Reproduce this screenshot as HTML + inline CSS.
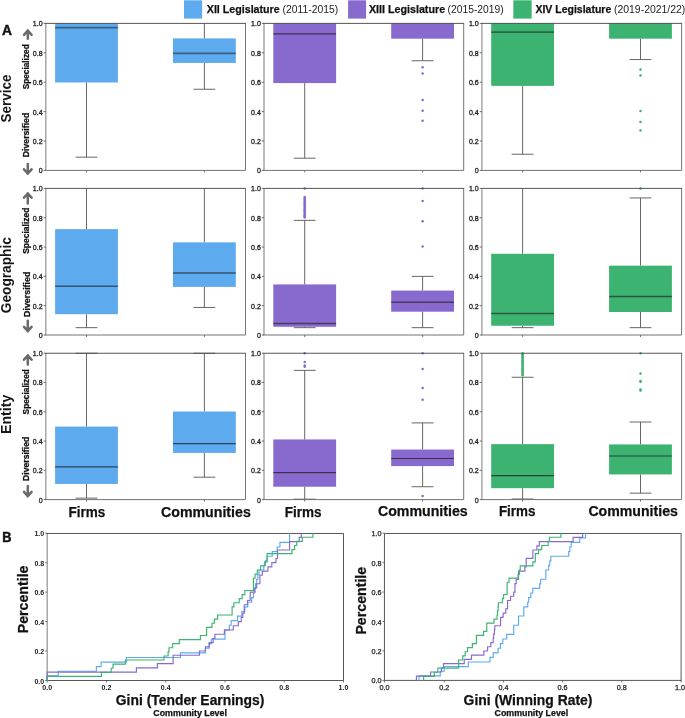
<!DOCTYPE html>
<html lang="en"><head><meta charset="utf-8"><title>Figure</title>
<style>
html,body{margin:0;padding:0;background:#fff;}
body{width:685px;height:718px;overflow:hidden;}
svg{display:block;will-change:transform;font-family:"Liberation Sans",sans-serif;}
</style></head>
<body>
<svg width="685" height="718" viewBox="0 0 685 718">
<rect width="685" height="718" fill="#ffffff"/>
<defs><filter id="ga" x="0" y="0" width="685" height="718" filterUnits="userSpaceOnUse" color-interpolation-filters="sRGB"><feOffset dx="0" dy="0"/></filter></defs>
<g filter="url(#ga)">
<g>
<path d="M86.5 23.4V23.4M86.5 82.49V157.17M75.6 157.17H97.4" stroke="#565656" stroke-width="0.9" fill="none"/>
<rect x="55.1" y="23.4" width="62.8" height="59.09" fill="#5DABEE"/>
<path d="M55.1 27.66H117.9" stroke="#1a1a1a" stroke-opacity="0.52" stroke-width="1.7"/>
<path d="M86.5 170.4v2" stroke="#4d4d4d" stroke-width="0.8"/>
<path d="M204.4 23.4V38.39M204.4 62.94V89.26M193.5 89.26H215.3" stroke="#565656" stroke-width="0.9" fill="none"/>
<rect x="173" y="38.39" width="62.8" height="24.55" fill="#5DABEE"/>
<path d="M173 53.39H235.8" stroke="#1a1a1a" stroke-opacity="0.52" stroke-width="1.7"/>
<path d="M204.4 170.4v2" stroke="#4d4d4d" stroke-width="0.8"/>
<path d="M45.8 23.4V170.4" stroke="#9a9a9a" stroke-width="1.3" fill="none"/>
<path d="M245.5 23.4V170.4H45.2" stroke="#6c6c6c" stroke-width="0.95" fill="none"/>
<path d="M45.2 23.4H245.95" stroke="#4d4d4d" stroke-width="0.95" fill="none"/>
<path d="M43.6 170.4h2.2" stroke="#4d4d4d" stroke-width="0.8"/>
<text x="42.6" y="173.3" font-size="7" font-weight="normal" text-anchor="end" fill="#1c1c1c" stroke="#1c1c1c" stroke-width="0.3">0</text>
<path d="M43.6 141h2.2" stroke="#4d4d4d" stroke-width="0.8"/>
<text x="42.6" y="143.9" font-size="7" font-weight="normal" text-anchor="end" fill="#1c1c1c" stroke="#1c1c1c" stroke-width="0.3">0.2</text>
<path d="M43.6 111.6h2.2" stroke="#4d4d4d" stroke-width="0.8"/>
<text x="42.6" y="114.5" font-size="7" font-weight="normal" text-anchor="end" fill="#1c1c1c" stroke="#1c1c1c" stroke-width="0.3">0.4</text>
<path d="M43.6 82.2h2.2" stroke="#4d4d4d" stroke-width="0.8"/>
<text x="42.6" y="85.1" font-size="7" font-weight="normal" text-anchor="end" fill="#1c1c1c" stroke="#1c1c1c" stroke-width="0.3">0.6</text>
<path d="M43.6 52.8h2.2" stroke="#4d4d4d" stroke-width="0.8"/>
<text x="42.6" y="55.7" font-size="7" font-weight="normal" text-anchor="end" fill="#1c1c1c" stroke="#1c1c1c" stroke-width="0.3">0.8</text>
<path d="M43.6 23.4h2.2" stroke="#4d4d4d" stroke-width="0.8"/>
<text x="42.6" y="26.3" font-size="7" font-weight="normal" text-anchor="end" fill="#1c1c1c" stroke="#1c1c1c" stroke-width="0.3">1.0</text>
</g>
<g>
<path d="M304.7 23.4V23.4M304.7 83.08V158.2M293.8 158.2H315.6" stroke="#565656" stroke-width="0.9" fill="none"/>
<rect x="273.3" y="23.4" width="62.8" height="59.68" fill="#8869CE"/>
<path d="M273.3 33.84H336.1" stroke="#1a1a1a" stroke-opacity="0.52" stroke-width="1.7"/>
<path d="M304.7 170.4v2" stroke="#4d4d4d" stroke-width="0.8"/>
<path d="M422.6 23.4V23.4M422.6 38.69V60.74M411.7 60.74H433.5" stroke="#565656" stroke-width="0.9" fill="none"/>
<rect x="391.2" y="23.4" width="62.8" height="15.29" fill="#8869CE"/>
<circle cx="422.6" cy="67.21" r="1.25" fill="#8869CE"/>
<circle cx="422.6" cy="73.38" r="1.25" fill="#8869CE"/>
<circle cx="422.6" cy="99.99" r="1.25" fill="#8869CE"/>
<circle cx="422.6" cy="110.72" r="1.25" fill="#8869CE"/>
<circle cx="422.6" cy="120.86" r="1.25" fill="#8869CE"/>
<path d="M422.6 170.4v2" stroke="#4d4d4d" stroke-width="0.8"/>
<path d="M264 23.4V170.4" stroke="#9a9a9a" stroke-width="1.3" fill="none"/>
<path d="M463.7 23.4V170.4H263.4" stroke="#6c6c6c" stroke-width="0.95" fill="none"/>
<path d="M263.4 23.4H464.15" stroke="#4d4d4d" stroke-width="0.95" fill="none"/>
<path d="M261.8 170.4h2.2" stroke="#4d4d4d" stroke-width="0.8"/>
<text x="260.8" y="173.3" font-size="7" font-weight="normal" text-anchor="end" fill="#1c1c1c" stroke="#1c1c1c" stroke-width="0.3">0</text>
<path d="M261.8 141h2.2" stroke="#4d4d4d" stroke-width="0.8"/>
<text x="260.8" y="143.9" font-size="7" font-weight="normal" text-anchor="end" fill="#1c1c1c" stroke="#1c1c1c" stroke-width="0.3">0.2</text>
<path d="M261.8 111.6h2.2" stroke="#4d4d4d" stroke-width="0.8"/>
<text x="260.8" y="114.5" font-size="7" font-weight="normal" text-anchor="end" fill="#1c1c1c" stroke="#1c1c1c" stroke-width="0.3">0.4</text>
<path d="M261.8 82.2h2.2" stroke="#4d4d4d" stroke-width="0.8"/>
<text x="260.8" y="85.1" font-size="7" font-weight="normal" text-anchor="end" fill="#1c1c1c" stroke="#1c1c1c" stroke-width="0.3">0.6</text>
<path d="M261.8 52.8h2.2" stroke="#4d4d4d" stroke-width="0.8"/>
<text x="260.8" y="55.7" font-size="7" font-weight="normal" text-anchor="end" fill="#1c1c1c" stroke="#1c1c1c" stroke-width="0.3">0.8</text>
<path d="M261.8 23.4h2.2" stroke="#4d4d4d" stroke-width="0.8"/>
<text x="260.8" y="26.3" font-size="7" font-weight="normal" text-anchor="end" fill="#1c1c1c" stroke="#1c1c1c" stroke-width="0.3">1.0</text>
</g>
<g>
<path d="M522.6 23.4V23.4M522.6 85.88V154.23M511.7 154.23H533.5" stroke="#565656" stroke-width="0.9" fill="none"/>
<rect x="491.2" y="23.4" width="62.8" height="62.48" fill="#3CB371"/>
<path d="M491.2 32.22H554" stroke="#1a1a1a" stroke-opacity="0.52" stroke-width="1.7"/>
<path d="M522.6 170.4v2" stroke="#4d4d4d" stroke-width="0.8"/>
<path d="M640.5 23.4V23.4M640.5 38.69V59.56M629.6 59.56H651.4" stroke="#565656" stroke-width="0.9" fill="none"/>
<rect x="609.1" y="23.4" width="62.8" height="15.29" fill="#3CB371"/>
<circle cx="640.5" cy="69.41" r="1.25" fill="#3CB371"/>
<circle cx="640.5" cy="75.44" r="1.25" fill="#3CB371"/>
<circle cx="640.5" cy="111.01" r="1.25" fill="#3CB371"/>
<circle cx="640.5" cy="122.04" r="1.25" fill="#3CB371"/>
<circle cx="640.5" cy="130.56" r="1.25" fill="#3CB371"/>
<path d="M640.5 170.4v2" stroke="#4d4d4d" stroke-width="0.8"/>
<path d="M481.9 23.4V170.4" stroke="#9a9a9a" stroke-width="1.3" fill="none"/>
<path d="M681.6 23.4V170.4H481.3" stroke="#6c6c6c" stroke-width="0.95" fill="none"/>
<path d="M481.3 23.4H682.05" stroke="#4d4d4d" stroke-width="0.95" fill="none"/>
<path d="M479.7 170.4h2.2" stroke="#4d4d4d" stroke-width="0.8"/>
<text x="478.7" y="173.3" font-size="7" font-weight="normal" text-anchor="end" fill="#1c1c1c" stroke="#1c1c1c" stroke-width="0.3">0</text>
<path d="M479.7 141h2.2" stroke="#4d4d4d" stroke-width="0.8"/>
<text x="478.7" y="143.9" font-size="7" font-weight="normal" text-anchor="end" fill="#1c1c1c" stroke="#1c1c1c" stroke-width="0.3">0.2</text>
<path d="M479.7 111.6h2.2" stroke="#4d4d4d" stroke-width="0.8"/>
<text x="478.7" y="114.5" font-size="7" font-weight="normal" text-anchor="end" fill="#1c1c1c" stroke="#1c1c1c" stroke-width="0.3">0.4</text>
<path d="M479.7 82.2h2.2" stroke="#4d4d4d" stroke-width="0.8"/>
<text x="478.7" y="85.1" font-size="7" font-weight="normal" text-anchor="end" fill="#1c1c1c" stroke="#1c1c1c" stroke-width="0.3">0.6</text>
<path d="M479.7 52.8h2.2" stroke="#4d4d4d" stroke-width="0.8"/>
<text x="478.7" y="55.7" font-size="7" font-weight="normal" text-anchor="end" fill="#1c1c1c" stroke="#1c1c1c" stroke-width="0.3">0.8</text>
<path d="M479.7 23.4h2.2" stroke="#4d4d4d" stroke-width="0.8"/>
<text x="478.7" y="26.3" font-size="7" font-weight="normal" text-anchor="end" fill="#1c1c1c" stroke="#1c1c1c" stroke-width="0.3">1.0</text>
</g>
<g>
<path d="M86.5 188.4V229.15M86.5 314.18V327.67M75.6 327.67H97.4" stroke="#565656" stroke-width="0.9" fill="none"/>
<rect x="55.1" y="229.15" width="62.8" height="85.03" fill="#5DABEE"/>
<path d="M55.1 286.18H117.9" stroke="#1a1a1a" stroke-opacity="0.6" stroke-width="1.5"/>
<path d="M86.5 335v2" stroke="#4d4d4d" stroke-width="0.8"/>
<path d="M204.4 188.4V242.35M204.4 286.92V307.44M193.5 307.44H215.3" stroke="#565656" stroke-width="0.9" fill="none"/>
<rect x="173" y="242.35" width="62.8" height="44.57" fill="#5DABEE"/>
<path d="M173 272.99H235.8" stroke="#1a1a1a" stroke-opacity="0.6" stroke-width="1.5"/>
<path d="M204.4 335v2" stroke="#4d4d4d" stroke-width="0.8"/>
<path d="M45.8 188.4V335" stroke="#9a9a9a" stroke-width="1.3" fill="none"/>
<path d="M245.5 188.4V335H45.2" stroke="#6c6c6c" stroke-width="0.95" fill="none"/>
<path d="M45.2 188.4H245.95" stroke="#4d4d4d" stroke-width="0.95" fill="none"/>
<path d="M43.6 335h2.2" stroke="#4d4d4d" stroke-width="0.8"/>
<text x="42.6" y="337.9" font-size="7" font-weight="normal" text-anchor="end" fill="#1c1c1c" stroke="#1c1c1c" stroke-width="0.3">0</text>
<path d="M43.6 305.68h2.2" stroke="#4d4d4d" stroke-width="0.8"/>
<text x="42.6" y="308.58" font-size="7" font-weight="normal" text-anchor="end" fill="#1c1c1c" stroke="#1c1c1c" stroke-width="0.3">0.2</text>
<path d="M43.6 276.36h2.2" stroke="#4d4d4d" stroke-width="0.8"/>
<text x="42.6" y="279.26" font-size="7" font-weight="normal" text-anchor="end" fill="#1c1c1c" stroke="#1c1c1c" stroke-width="0.3">0.4</text>
<path d="M43.6 247.04h2.2" stroke="#4d4d4d" stroke-width="0.8"/>
<text x="42.6" y="249.94" font-size="7" font-weight="normal" text-anchor="end" fill="#1c1c1c" stroke="#1c1c1c" stroke-width="0.3">0.6</text>
<path d="M43.6 217.72h2.2" stroke="#4d4d4d" stroke-width="0.8"/>
<text x="42.6" y="220.62" font-size="7" font-weight="normal" text-anchor="end" fill="#1c1c1c" stroke="#1c1c1c" stroke-width="0.3">0.8</text>
<path d="M43.6 188.4h2.2" stroke="#4d4d4d" stroke-width="0.8"/>
<text x="42.6" y="191.3" font-size="7" font-weight="normal" text-anchor="end" fill="#1c1c1c" stroke="#1c1c1c" stroke-width="0.3">1.0</text>
</g>
<g>
<path d="M304.7 220.36V284.42M304.7 326.79V327.67M293.8 327.67H315.6M293.8 220.36H315.6" stroke="#565656" stroke-width="0.9" fill="none"/>
<rect x="273.3" y="284.42" width="62.8" height="42.37" fill="#8869CE"/>
<path d="M273.3 323.42H336.1" stroke="#1a1a1a" stroke-opacity="0.6" stroke-width="1.5"/>
<circle cx="304.7" cy="217.57" r="1.25" fill="#8869CE"/>
<circle cx="304.7" cy="216.37" r="1.25" fill="#8869CE"/>
<circle cx="304.7" cy="215.16" r="1.25" fill="#8869CE"/>
<circle cx="304.7" cy="213.95" r="1.25" fill="#8869CE"/>
<circle cx="304.7" cy="212.74" r="1.25" fill="#8869CE"/>
<circle cx="304.7" cy="211.54" r="1.25" fill="#8869CE"/>
<circle cx="304.7" cy="210.33" r="1.25" fill="#8869CE"/>
<circle cx="304.7" cy="209.12" r="1.25" fill="#8869CE"/>
<circle cx="304.7" cy="207.92" r="1.25" fill="#8869CE"/>
<circle cx="304.7" cy="206.71" r="1.25" fill="#8869CE"/>
<circle cx="304.7" cy="205.5" r="1.25" fill="#8869CE"/>
<circle cx="304.7" cy="204.29" r="1.25" fill="#8869CE"/>
<circle cx="304.7" cy="203.09" r="1.25" fill="#8869CE"/>
<circle cx="304.7" cy="201.88" r="1.25" fill="#8869CE"/>
<circle cx="304.7" cy="200.67" r="1.25" fill="#8869CE"/>
<circle cx="304.7" cy="199.46" r="1.25" fill="#8869CE"/>
<circle cx="304.7" cy="198.26" r="1.25" fill="#8869CE"/>
<circle cx="304.7" cy="197.05" r="1.25" fill="#8869CE"/>
<circle cx="304.7" cy="188.4" r="1.25" fill="#8869CE"/>
<path d="M304.7 335v2" stroke="#4d4d4d" stroke-width="0.8"/>
<path d="M422.6 276.36V290.58M422.6 311.69V327.67M411.7 327.67H433.5M411.7 276.36H433.5" stroke="#565656" stroke-width="0.9" fill="none"/>
<rect x="391.2" y="290.58" width="62.8" height="21.11" fill="#8869CE"/>
<path d="M391.2 302.16H454" stroke="#1a1a1a" stroke-opacity="0.6" stroke-width="1.5"/>
<circle cx="422.6" cy="246.6" r="1.25" fill="#8869CE"/>
<circle cx="422.6" cy="221.24" r="1.25" fill="#8869CE"/>
<circle cx="422.6" cy="201.01" r="1.25" fill="#8869CE"/>
<circle cx="422.6" cy="188.4" r="1.25" fill="#8869CE"/>
<path d="M422.6 335v2" stroke="#4d4d4d" stroke-width="0.8"/>
<path d="M264 188.4V335" stroke="#9a9a9a" stroke-width="1.3" fill="none"/>
<path d="M463.7 188.4V335H263.4" stroke="#6c6c6c" stroke-width="0.95" fill="none"/>
<path d="M263.4 188.4H464.15" stroke="#4d4d4d" stroke-width="0.95" fill="none"/>
<path d="M261.8 335h2.2" stroke="#4d4d4d" stroke-width="0.8"/>
<text x="260.8" y="337.9" font-size="7" font-weight="normal" text-anchor="end" fill="#1c1c1c" stroke="#1c1c1c" stroke-width="0.3">0</text>
<path d="M261.8 305.68h2.2" stroke="#4d4d4d" stroke-width="0.8"/>
<text x="260.8" y="308.58" font-size="7" font-weight="normal" text-anchor="end" fill="#1c1c1c" stroke="#1c1c1c" stroke-width="0.3">0.2</text>
<path d="M261.8 276.36h2.2" stroke="#4d4d4d" stroke-width="0.8"/>
<text x="260.8" y="279.26" font-size="7" font-weight="normal" text-anchor="end" fill="#1c1c1c" stroke="#1c1c1c" stroke-width="0.3">0.4</text>
<path d="M261.8 247.04h2.2" stroke="#4d4d4d" stroke-width="0.8"/>
<text x="260.8" y="249.94" font-size="7" font-weight="normal" text-anchor="end" fill="#1c1c1c" stroke="#1c1c1c" stroke-width="0.3">0.6</text>
<path d="M261.8 217.72h2.2" stroke="#4d4d4d" stroke-width="0.8"/>
<text x="260.8" y="220.62" font-size="7" font-weight="normal" text-anchor="end" fill="#1c1c1c" stroke="#1c1c1c" stroke-width="0.3">0.8</text>
<path d="M261.8 188.4h2.2" stroke="#4d4d4d" stroke-width="0.8"/>
<text x="260.8" y="191.3" font-size="7" font-weight="normal" text-anchor="end" fill="#1c1c1c" stroke="#1c1c1c" stroke-width="0.3">1.0</text>
</g>
<g>
<path d="M522.6 188.4V253.78M522.6 325.76V327.67M511.7 327.67H533.5" stroke="#565656" stroke-width="0.9" fill="none"/>
<rect x="491.2" y="253.78" width="62.8" height="71.98" fill="#3CB371"/>
<path d="M491.2 313.6H554" stroke="#1a1a1a" stroke-opacity="0.6" stroke-width="1.5"/>
<path d="M522.6 335v2" stroke="#4d4d4d" stroke-width="0.8"/>
<path d="M640.5 197.93V265.66M640.5 311.98V327.67M629.6 327.67H651.4M629.6 197.93H651.4" stroke="#565656" stroke-width="0.9" fill="none"/>
<rect x="609.1" y="265.66" width="62.8" height="46.33" fill="#3CB371"/>
<path d="M609.1 296.59H671.9" stroke="#1a1a1a" stroke-opacity="0.6" stroke-width="1.5"/>
<circle cx="640.5" cy="188.4" r="1.25" fill="#3CB371"/>
<path d="M640.5 335v2" stroke="#4d4d4d" stroke-width="0.8"/>
<path d="M481.9 188.4V335" stroke="#9a9a9a" stroke-width="1.3" fill="none"/>
<path d="M681.6 188.4V335H481.3" stroke="#6c6c6c" stroke-width="0.95" fill="none"/>
<path d="M481.3 188.4H682.05" stroke="#4d4d4d" stroke-width="0.95" fill="none"/>
<path d="M479.7 335h2.2" stroke="#4d4d4d" stroke-width="0.8"/>
<text x="478.7" y="337.9" font-size="7" font-weight="normal" text-anchor="end" fill="#1c1c1c" stroke="#1c1c1c" stroke-width="0.3">0</text>
<path d="M479.7 305.68h2.2" stroke="#4d4d4d" stroke-width="0.8"/>
<text x="478.7" y="308.58" font-size="7" font-weight="normal" text-anchor="end" fill="#1c1c1c" stroke="#1c1c1c" stroke-width="0.3">0.2</text>
<path d="M479.7 276.36h2.2" stroke="#4d4d4d" stroke-width="0.8"/>
<text x="478.7" y="279.26" font-size="7" font-weight="normal" text-anchor="end" fill="#1c1c1c" stroke="#1c1c1c" stroke-width="0.3">0.4</text>
<path d="M479.7 247.04h2.2" stroke="#4d4d4d" stroke-width="0.8"/>
<text x="478.7" y="249.94" font-size="7" font-weight="normal" text-anchor="end" fill="#1c1c1c" stroke="#1c1c1c" stroke-width="0.3">0.6</text>
<path d="M479.7 217.72h2.2" stroke="#4d4d4d" stroke-width="0.8"/>
<text x="478.7" y="220.62" font-size="7" font-weight="normal" text-anchor="end" fill="#1c1c1c" stroke="#1c1c1c" stroke-width="0.3">0.8</text>
<path d="M479.7 188.4h2.2" stroke="#4d4d4d" stroke-width="0.8"/>
<text x="478.7" y="191.3" font-size="7" font-weight="normal" text-anchor="end" fill="#1c1c1c" stroke="#1c1c1c" stroke-width="0.3">1.0</text>
</g>
<g>
<path d="M86.5 353.25V426.57M86.5 483.94V498.14M75.6 498.14H97.4M75.6 353.25H97.4" stroke="#565656" stroke-width="0.9" fill="none"/>
<rect x="55.1" y="426.57" width="62.8" height="57.37" fill="#5DABEE"/>
<path d="M55.1 466.82H117.9" stroke="#1a1a1a" stroke-opacity="0.72" stroke-width="1.15"/>
<path d="M86.5 499.6v2" stroke="#4d4d4d" stroke-width="0.8"/>
<path d="M204.4 353.25V411.5M204.4 452.91V477.21M193.5 477.21H215.3M193.5 353.25H215.3" stroke="#565656" stroke-width="0.9" fill="none"/>
<rect x="173" y="411.5" width="62.8" height="41.42" fill="#5DABEE"/>
<path d="M173 443.69H235.8" stroke="#1a1a1a" stroke-opacity="0.72" stroke-width="1.15"/>
<path d="M204.4 499.6v2" stroke="#4d4d4d" stroke-width="0.8"/>
<path d="M45.8 353.25V499.6" stroke="#9a9a9a" stroke-width="1.3" fill="none"/>
<path d="M245.5 353.25V499.6H45.2" stroke="#6c6c6c" stroke-width="0.95" fill="none"/>
<path d="M45.2 353.25H245.95" stroke="#4d4d4d" stroke-width="0.95" fill="none"/>
<path d="M43.6 499.6h2.2" stroke="#4d4d4d" stroke-width="0.8"/>
<text x="42.6" y="502.5" font-size="7" font-weight="normal" text-anchor="end" fill="#1c1c1c" stroke="#1c1c1c" stroke-width="0.3">0</text>
<path d="M43.6 470.33h2.2" stroke="#4d4d4d" stroke-width="0.8"/>
<text x="42.6" y="473.23" font-size="7" font-weight="normal" text-anchor="end" fill="#1c1c1c" stroke="#1c1c1c" stroke-width="0.3">0.2</text>
<path d="M43.6 441.06h2.2" stroke="#4d4d4d" stroke-width="0.8"/>
<text x="42.6" y="443.96" font-size="7" font-weight="normal" text-anchor="end" fill="#1c1c1c" stroke="#1c1c1c" stroke-width="0.3">0.4</text>
<path d="M43.6 411.79h2.2" stroke="#4d4d4d" stroke-width="0.8"/>
<text x="42.6" y="414.69" font-size="7" font-weight="normal" text-anchor="end" fill="#1c1c1c" stroke="#1c1c1c" stroke-width="0.3">0.6</text>
<path d="M43.6 382.52h2.2" stroke="#4d4d4d" stroke-width="0.8"/>
<text x="42.6" y="385.42" font-size="7" font-weight="normal" text-anchor="end" fill="#1c1c1c" stroke="#1c1c1c" stroke-width="0.3">0.8</text>
<path d="M43.6 353.25h2.2" stroke="#4d4d4d" stroke-width="0.8"/>
<text x="42.6" y="356.15" font-size="7" font-weight="normal" text-anchor="end" fill="#1c1c1c" stroke="#1c1c1c" stroke-width="0.3">1.0</text>
</g>
<g>
<path d="M304.7 370.37V439.45M304.7 486.72V499.16M293.8 499.16H315.6M293.8 370.37H315.6" stroke="#565656" stroke-width="0.9" fill="none"/>
<rect x="273.3" y="439.45" width="62.8" height="47.27" fill="#8869CE"/>
<path d="M273.3 472.67H336.1" stroke="#1a1a1a" stroke-opacity="0.72" stroke-width="1.15"/>
<circle cx="304.7" cy="366.71" r="1.25" fill="#8869CE"/>
<circle cx="304.7" cy="365.54" r="1.25" fill="#8869CE"/>
<circle cx="304.7" cy="361.88" r="1.25" fill="#8869CE"/>
<circle cx="304.7" cy="353.25" r="1.25" fill="#8869CE"/>
<path d="M304.7 499.6v2" stroke="#4d4d4d" stroke-width="0.8"/>
<path d="M422.6 422.91V449.55M422.6 466.09V486.72M411.7 486.72H433.5M411.7 422.91H433.5" stroke="#565656" stroke-width="0.9" fill="none"/>
<rect x="391.2" y="449.55" width="62.8" height="16.54" fill="#8869CE"/>
<path d="M391.2 458.48H454" stroke="#1a1a1a" stroke-opacity="0.72" stroke-width="1.15"/>
<circle cx="422.6" cy="495.94" r="1.25" fill="#8869CE"/>
<circle cx="422.6" cy="399.64" r="1.25" fill="#8869CE"/>
<circle cx="422.6" cy="387.93" r="1.25" fill="#8869CE"/>
<circle cx="422.6" cy="368.91" r="1.25" fill="#8869CE"/>
<circle cx="422.6" cy="353.25" r="1.25" fill="#8869CE"/>
<path d="M422.6 499.6v2" stroke="#4d4d4d" stroke-width="0.8"/>
<path d="M264 353.25V499.6" stroke="#9a9a9a" stroke-width="1.3" fill="none"/>
<path d="M463.7 353.25V499.6H263.4" stroke="#6c6c6c" stroke-width="0.95" fill="none"/>
<path d="M263.4 353.25H464.15" stroke="#4d4d4d" stroke-width="0.95" fill="none"/>
<path d="M261.8 499.6h2.2" stroke="#4d4d4d" stroke-width="0.8"/>
<text x="260.8" y="502.5" font-size="7" font-weight="normal" text-anchor="end" fill="#1c1c1c" stroke="#1c1c1c" stroke-width="0.3">0</text>
<path d="M261.8 470.33h2.2" stroke="#4d4d4d" stroke-width="0.8"/>
<text x="260.8" y="473.23" font-size="7" font-weight="normal" text-anchor="end" fill="#1c1c1c" stroke="#1c1c1c" stroke-width="0.3">0.2</text>
<path d="M261.8 441.06h2.2" stroke="#4d4d4d" stroke-width="0.8"/>
<text x="260.8" y="443.96" font-size="7" font-weight="normal" text-anchor="end" fill="#1c1c1c" stroke="#1c1c1c" stroke-width="0.3">0.4</text>
<path d="M261.8 411.79h2.2" stroke="#4d4d4d" stroke-width="0.8"/>
<text x="260.8" y="414.69" font-size="7" font-weight="normal" text-anchor="end" fill="#1c1c1c" stroke="#1c1c1c" stroke-width="0.3">0.6</text>
<path d="M261.8 382.52h2.2" stroke="#4d4d4d" stroke-width="0.8"/>
<text x="260.8" y="385.42" font-size="7" font-weight="normal" text-anchor="end" fill="#1c1c1c" stroke="#1c1c1c" stroke-width="0.3">0.8</text>
<path d="M261.8 353.25h2.2" stroke="#4d4d4d" stroke-width="0.8"/>
<text x="260.8" y="356.15" font-size="7" font-weight="normal" text-anchor="end" fill="#1c1c1c" stroke="#1c1c1c" stroke-width="0.3">1.0</text>
</g>
<g>
<path d="M522.6 377.25V444.13M522.6 488.18V499.01M511.7 499.01H533.5M511.7 377.25H533.5" stroke="#565656" stroke-width="0.9" fill="none"/>
<rect x="491.2" y="444.13" width="62.8" height="44.05" fill="#3CB371"/>
<path d="M491.2 475.6H554" stroke="#1a1a1a" stroke-opacity="0.72" stroke-width="1.15"/>
<circle cx="522.6" cy="375.2" r="1.25" fill="#3CB371"/>
<circle cx="522.6" cy="374.05" r="1.25" fill="#3CB371"/>
<circle cx="522.6" cy="372.89" r="1.25" fill="#3CB371"/>
<circle cx="522.6" cy="371.74" r="1.25" fill="#3CB371"/>
<circle cx="522.6" cy="370.58" r="1.25" fill="#3CB371"/>
<circle cx="522.6" cy="369.43" r="1.25" fill="#3CB371"/>
<circle cx="522.6" cy="368.27" r="1.25" fill="#3CB371"/>
<circle cx="522.6" cy="367.11" r="1.25" fill="#3CB371"/>
<circle cx="522.6" cy="365.96" r="1.25" fill="#3CB371"/>
<circle cx="522.6" cy="364.8" r="1.25" fill="#3CB371"/>
<circle cx="522.6" cy="363.65" r="1.25" fill="#3CB371"/>
<circle cx="522.6" cy="362.49" r="1.25" fill="#3CB371"/>
<circle cx="522.6" cy="361.34" r="1.25" fill="#3CB371"/>
<circle cx="522.6" cy="360.18" r="1.25" fill="#3CB371"/>
<circle cx="522.6" cy="359.03" r="1.25" fill="#3CB371"/>
<circle cx="522.6" cy="357.87" r="1.25" fill="#3CB371"/>
<circle cx="522.6" cy="356.72" r="1.25" fill="#3CB371"/>
<circle cx="522.6" cy="355.56" r="1.25" fill="#3CB371"/>
<circle cx="522.6" cy="354.41" r="1.25" fill="#3CB371"/>
<circle cx="522.6" cy="353.25" r="1.25" fill="#3CB371"/>
<path d="M522.6 499.6v2" stroke="#4d4d4d" stroke-width="0.8"/>
<path d="M640.5 422.03V444.43M640.5 474.43V493.16M629.6 493.16H651.4M629.6 422.03H651.4" stroke="#565656" stroke-width="0.9" fill="none"/>
<rect x="609.1" y="444.43" width="62.8" height="30" fill="#3CB371"/>
<path d="M609.1 455.99H671.9" stroke="#1a1a1a" stroke-opacity="0.72" stroke-width="1.15"/>
<circle cx="640.5" cy="390.42" r="1.25" fill="#3CB371"/>
<circle cx="640.5" cy="389.54" r="1.25" fill="#3CB371"/>
<circle cx="640.5" cy="381.79" r="1.25" fill="#3CB371"/>
<circle cx="640.5" cy="380.91" r="1.25" fill="#3CB371"/>
<circle cx="640.5" cy="373.45" r="1.25" fill="#3CB371"/>
<circle cx="640.5" cy="353.25" r="1.25" fill="#3CB371"/>
<path d="M640.5 499.6v2" stroke="#4d4d4d" stroke-width="0.8"/>
<path d="M481.9 353.25V499.6" stroke="#9a9a9a" stroke-width="1.3" fill="none"/>
<path d="M681.6 353.25V499.6H481.3" stroke="#6c6c6c" stroke-width="0.95" fill="none"/>
<path d="M481.3 353.25H682.05" stroke="#4d4d4d" stroke-width="0.95" fill="none"/>
<path d="M479.7 499.6h2.2" stroke="#4d4d4d" stroke-width="0.8"/>
<text x="478.7" y="502.5" font-size="7" font-weight="normal" text-anchor="end" fill="#1c1c1c" stroke="#1c1c1c" stroke-width="0.3">0</text>
<path d="M479.7 470.33h2.2" stroke="#4d4d4d" stroke-width="0.8"/>
<text x="478.7" y="473.23" font-size="7" font-weight="normal" text-anchor="end" fill="#1c1c1c" stroke="#1c1c1c" stroke-width="0.3">0.2</text>
<path d="M479.7 441.06h2.2" stroke="#4d4d4d" stroke-width="0.8"/>
<text x="478.7" y="443.96" font-size="7" font-weight="normal" text-anchor="end" fill="#1c1c1c" stroke="#1c1c1c" stroke-width="0.3">0.4</text>
<path d="M479.7 411.79h2.2" stroke="#4d4d4d" stroke-width="0.8"/>
<text x="478.7" y="414.69" font-size="7" font-weight="normal" text-anchor="end" fill="#1c1c1c" stroke="#1c1c1c" stroke-width="0.3">0.6</text>
<path d="M479.7 382.52h2.2" stroke="#4d4d4d" stroke-width="0.8"/>
<text x="478.7" y="385.42" font-size="7" font-weight="normal" text-anchor="end" fill="#1c1c1c" stroke="#1c1c1c" stroke-width="0.3">0.8</text>
<path d="M479.7 353.25h2.2" stroke="#4d4d4d" stroke-width="0.8"/>
<text x="478.7" y="356.15" font-size="7" font-weight="normal" text-anchor="end" fill="#1c1c1c" stroke="#1c1c1c" stroke-width="0.3">1.0</text>
</g>
<text x="68.4" y="516.6" font-size="14" font-weight="bold" text-anchor="start" fill="#111" textLength="36.8" lengthAdjust="spacingAndGlyphs" stroke="#111" stroke-width="0.25">Firms</text>
<text x="161" y="516.9" font-size="14" font-weight="bold" text-anchor="start" fill="#111" textLength="89.8" lengthAdjust="spacingAndGlyphs" stroke="#111" stroke-width="0.25">Communities</text>
<text x="284.7" y="517.2" font-size="14" font-weight="bold" text-anchor="start" fill="#111" textLength="36.8" lengthAdjust="spacingAndGlyphs" stroke="#111" stroke-width="0.25">Firms</text>
<text x="377.9" y="516.4" font-size="14" font-weight="bold" text-anchor="start" fill="#111" textLength="89.8" lengthAdjust="spacingAndGlyphs" stroke="#111" stroke-width="0.25">Communities</text>
<text x="498.9" y="516.4" font-size="14" font-weight="bold" text-anchor="start" fill="#111" textLength="36.5" lengthAdjust="spacingAndGlyphs" stroke="#111" stroke-width="0.25">Firms</text>
<text x="588.4" y="516.4" font-size="14" font-weight="bold" text-anchor="start" fill="#111" textLength="89.5" lengthAdjust="spacingAndGlyphs" stroke="#111" stroke-width="0.25">Communities</text>
<rect x="184" y="0.3" width="18.15" height="18.3" fill="#5DABEE"/>
<text x="206.8" y="12.8" font-size="11" font-weight="bold" text-anchor="start" fill="#111" textLength="72.9" lengthAdjust="spacingAndGlyphs" stroke="#111" stroke-width="0.25">XII Legislature</text>
<text x="282.5" y="12.8" font-size="11" font-weight="normal" text-anchor="start" fill="#222" textLength="55.6" lengthAdjust="spacingAndGlyphs">(2011-2015)</text>
<rect x="348.1" y="0.3" width="17.95" height="18.3" fill="#8869CE"/>
<text x="368.9" y="12.8" font-size="11" font-weight="bold" text-anchor="start" fill="#111" textLength="76.2" lengthAdjust="spacingAndGlyphs" stroke="#111" stroke-width="0.25">XIII Legislature</text>
<text x="447.6" y="12.8" font-size="11" font-weight="normal" text-anchor="start" fill="#222" textLength="56" lengthAdjust="spacingAndGlyphs">(2015-2019)</text>
<rect x="513.35" y="0.3" width="18.3" height="18.3" fill="#3CB371"/>
<text x="535.4" y="12.8" font-size="11" font-weight="bold" text-anchor="start" fill="#111" textLength="75.9" lengthAdjust="spacingAndGlyphs" stroke="#111" stroke-width="0.25">XIV Legislature</text>
<text x="614" y="12.8" font-size="11" font-weight="normal" text-anchor="start" fill="#222" textLength="71.3" lengthAdjust="spacingAndGlyphs">(2019-2021/22)</text>
<text x="1.9" y="34.8" font-size="14" font-weight="bold" text-anchor="start" fill="#111" textLength="10" lengthAdjust="spacingAndGlyphs" stroke="#111" stroke-width="0.4">A</text>
<text x="2.3" y="541.7" font-size="14" font-weight="bold" text-anchor="start" fill="#111" textLength="9.2" lengthAdjust="spacingAndGlyphs" stroke="#111" stroke-width="0.5">B</text>
<text x="10.9" y="122.4" font-size="14" font-weight="bold" text-anchor="start" fill="#161616" textLength="48" lengthAdjust="spacingAndGlyphs" transform="rotate(-90 10.9 122.4)">Service</text>
<text x="10.9" y="313.2" font-size="14" font-weight="bold" text-anchor="start" fill="#161616" textLength="76" lengthAdjust="spacingAndGlyphs" transform="rotate(-90 10.9 313.2)">Geographic</text>
<text x="10.9" y="434" font-size="14" font-weight="bold" text-anchor="start" fill="#161616" textLength="39.4" lengthAdjust="spacingAndGlyphs" transform="rotate(-90 10.9 434)">Entity</text>
<text x="29.05" y="89.3" font-size="8.4" font-weight="bold" text-anchor="start" fill="#111" textLength="45" lengthAdjust="spacingAndGlyphs" transform="rotate(-90 29.05 89.3)" stroke="#111" stroke-width="0.25">Specialized</text>
<text x="29.05" y="157.2" font-size="8.4" font-weight="bold" text-anchor="start" fill="#111" textLength="44.4" lengthAdjust="spacingAndGlyphs" transform="rotate(-90 29.05 157.2)" stroke="#111" stroke-width="0.25">Diversified</text>
<path d="M27.8 38.8V30.5M24.0 34.9L27.8 30.7L31.6 34.9" stroke="#6a6a6a" stroke-width="2.5" fill="none" stroke-linecap="round" stroke-linejoin="miter"/>
<path d="M27.8 164V173.7M24.0 169.3L27.8 173.5L31.6 169.3" stroke="#6a6a6a" stroke-width="2.5" fill="none" stroke-linecap="round" stroke-linejoin="miter"/>
<text x="29" y="253.8" font-size="8.4" font-weight="bold" text-anchor="start" fill="#111" textLength="46.2" lengthAdjust="spacingAndGlyphs" transform="rotate(-90 29 253.8)" stroke="#111" stroke-width="0.25">Specialized</text>
<text x="30.25" y="317" font-size="8.4" font-weight="bold" text-anchor="start" fill="#111" textLength="45.4" lengthAdjust="spacingAndGlyphs" transform="rotate(-90 30.25 317)" stroke="#111" stroke-width="0.25">Diversified</text>
<path d="M27.8 203.6V193.3M24.0 197.7L27.8 193.5L31.6 197.7" stroke="#6a6a6a" stroke-width="2.5" fill="none" stroke-linecap="round" stroke-linejoin="miter"/>
<path d="M27.8 320.7V331.3M24.0 326.9L27.8 331.1L31.6 326.9" stroke="#6a6a6a" stroke-width="2.5" fill="none" stroke-linecap="round" stroke-linejoin="miter"/>
<text x="29" y="414.4" font-size="8.4" font-weight="bold" text-anchor="start" fill="#111" textLength="45.3" lengthAdjust="spacingAndGlyphs" transform="rotate(-90 29 414.4)" stroke="#111" stroke-width="0.25">Specialized</text>
<text x="29.05" y="480.9" font-size="8.4" font-weight="bold" text-anchor="start" fill="#111" textLength="44.1" lengthAdjust="spacingAndGlyphs" transform="rotate(-90 29.05 480.9)" stroke="#111" stroke-width="0.25">Diversified</text>
<path d="M27.8 364.6V355.3M24.0 359.7L27.8 355.5L31.6 359.7" stroke="#6a6a6a" stroke-width="2.5" fill="none" stroke-linecap="round" stroke-linejoin="miter"/>
<path d="M27.8 485.9V496.3M24.0 491.9L27.8 496.1L31.6 491.9" stroke="#6a6a6a" stroke-width="2.5" fill="none" stroke-linecap="round" stroke-linejoin="miter"/>
<g>
<rect x="47.2" y="533.2" width="296.3" height="147.3" fill="#fff" stroke="none"/>
<path d="M47.2 533.2V680.5" stroke="#9a9a9a" stroke-width="1.3" fill="none"/>
<path d="M46.6 533.48H343.5V680.5H46.6" stroke="#4d4d4d" stroke-width="0.95" fill="none"/>
<path d="M45.2 680.5h2" stroke="#4d4d4d" stroke-width="0.8"/>
<text x="44.2" y="683.5" font-size="6.5" font-weight="bold" text-anchor="end" fill="#1c1c1c" textLength="9.8" lengthAdjust="spacingAndGlyphs">0.0</text>
<path d="M47.2 680.5v2" stroke="#4d4d4d" stroke-width="0.8"/>
<text x="47.2" y="690.4" font-size="6.5" font-weight="bold" text-anchor="middle" fill="#1c1c1c" textLength="9.8" lengthAdjust="spacingAndGlyphs">0.0</text>
<path d="M45.2 651.04h2" stroke="#4d4d4d" stroke-width="0.8"/>
<text x="44.2" y="654.04" font-size="6.5" font-weight="bold" text-anchor="end" fill="#1c1c1c" textLength="9.8" lengthAdjust="spacingAndGlyphs">0.2</text>
<path d="M106.46 680.5v2" stroke="#4d4d4d" stroke-width="0.8"/>
<text x="106.46" y="690.4" font-size="6.5" font-weight="bold" text-anchor="middle" fill="#1c1c1c" textLength="9.8" lengthAdjust="spacingAndGlyphs">0.2</text>
<path d="M45.2 621.58h2" stroke="#4d4d4d" stroke-width="0.8"/>
<text x="44.2" y="624.58" font-size="6.5" font-weight="bold" text-anchor="end" fill="#1c1c1c" textLength="9.8" lengthAdjust="spacingAndGlyphs">0.4</text>
<path d="M165.72 680.5v2" stroke="#4d4d4d" stroke-width="0.8"/>
<text x="165.72" y="690.4" font-size="6.5" font-weight="bold" text-anchor="middle" fill="#1c1c1c" textLength="9.8" lengthAdjust="spacingAndGlyphs">0.4</text>
<path d="M45.2 592.12h2" stroke="#4d4d4d" stroke-width="0.8"/>
<text x="44.2" y="595.12" font-size="6.5" font-weight="bold" text-anchor="end" fill="#1c1c1c" textLength="9.8" lengthAdjust="spacingAndGlyphs">0.6</text>
<path d="M224.98 680.5v2" stroke="#4d4d4d" stroke-width="0.8"/>
<text x="224.98" y="690.4" font-size="6.5" font-weight="bold" text-anchor="middle" fill="#1c1c1c" textLength="9.8" lengthAdjust="spacingAndGlyphs">0.6</text>
<path d="M45.2 562.66h2" stroke="#4d4d4d" stroke-width="0.8"/>
<text x="44.2" y="565.66" font-size="6.5" font-weight="bold" text-anchor="end" fill="#1c1c1c" textLength="9.8" lengthAdjust="spacingAndGlyphs">0.8</text>
<path d="M284.24 680.5v2" stroke="#4d4d4d" stroke-width="0.8"/>
<text x="284.24" y="690.4" font-size="6.5" font-weight="bold" text-anchor="middle" fill="#1c1c1c" textLength="9.8" lengthAdjust="spacingAndGlyphs">0.8</text>
<path d="M45.2 533.2h2" stroke="#4d4d4d" stroke-width="0.8"/>
<text x="44.2" y="536.2" font-size="6.5" font-weight="bold" text-anchor="end" fill="#1c1c1c" textLength="9.8" lengthAdjust="spacingAndGlyphs">1.0</text>
<path d="M343.5 680.5v2" stroke="#4d4d4d" stroke-width="0.8"/>
<text x="343.5" y="690.4" font-size="6.5" font-weight="bold" text-anchor="middle" fill="#1c1c1c" textLength="9.8" lengthAdjust="spacingAndGlyphs">1.0</text>
<path d="M47.2 680.5H47.2V675.9H58.16V671.29H96.39V666.69H101.13V662.09H126.31V657.48H180.39V652.88H205.42V648.28H209.28V643.67H211.35V639.07H224.98V634.47H224.98V629.87H229.42V625.26H231.2V620.66H237.57V616.06H241.87V611.45H244.83V606.85H247.8V602.25H251.65V597.64H253.42V593.04H254.31V588.44H255.5V583.83H256.68V579.23H257.87V574.63H259.05V570.03H263.8V565.42H265.42V560.82H267.05V556.22H272.24V551.61H277.13V547.01H279.94V542.41H289.57V537.8H289.57V533.2" stroke="#5DABEE" stroke-width="1.15" fill="none" stroke-linejoin="miter"/>
<path d="M47.2 680.5H47.2V676.29H47.2V672.08H136.39V667.87H157.42V663.67H173.13V659.46H173.13V655.25H199.5V651.04H205.42V646.83H209.13V642.62H213.13V638.41H214.91V634.21H224.39V630H233.28V625.79H238.31V621.58H241.28V617.37H242.76V613.16H244.24V608.95H244.24V604.75H247.5V600.54H250.17V596.33H250.17V592.12H255.05V587.91H256.68V583.7H259.94V579.49H259.94V575.29H262.31V571.08H267.94V566.87H271.8V562.66H275.94V558.45H277.57V554.24H277.57V550.03H289.57V545.83H289.57V541.62H299.2V537.41H301.28V533.2" stroke="#8869CE" stroke-width="1.15" fill="none" stroke-linejoin="miter"/>
<path d="M47.2 680.5H47.2V676.41H101.42V672.32H111.2V668.23H112.98V664.13H125.42V660.04H163.94V655.95H168.09V651.86H168.98V647.77H172.68V643.67H179.35V639.58H200.39V635.49H206.61V631.4H206.61V627.31H211.94V623.22H214.31V619.12H217.57V615.03H232.09V610.94H232.09V606.85H233.87V602.76H239.2V598.67H242.17V594.58H244.83V590.48H253.42V586.39H253.42V582.3H253.42V578.21H255.05V574.12H257.28V570.03H260.68V565.93H264.68V561.84H267.05V557.75H267.05V553.66H291.94V549.57H294.61V545.48H296.68V541.38H302.31V537.29H312.98V533.2" stroke="#3CB371" stroke-width="1.15" fill="none" stroke-linejoin="miter"/>
<text x="115.8" y="704.5" font-size="14.2" font-weight="bold" text-anchor="start" fill="#111" textLength="148.6" lengthAdjust="spacingAndGlyphs" stroke="#111" stroke-width="0.25">Gini (Tender Earnings)</text>
<text x="153.3" y="715.6" font-size="8.5" font-weight="bold" text-anchor="start" fill="#111" textLength="73.6" lengthAdjust="spacingAndGlyphs" stroke="#111" stroke-width="0.25">Community Level</text>
<text x="28.3" y="633.3" font-size="14" font-weight="bold" text-anchor="start" fill="#111" textLength="67.8" lengthAdjust="spacingAndGlyphs" transform="rotate(-90 28.3 633.3)" stroke="#111" stroke-width="0.25">Percentile</text>
</g>
<g>
<rect x="384.45" y="533.2" width="296.65" height="147.2" fill="#fff" stroke="none"/>
<path d="M384.45 680.4V533.48H681.1" stroke="#4d4d4d" stroke-width="0.95" fill="none"/>
<path d="M681.1 533.48V680.4" stroke="#6a6a6a" stroke-width="1.1" fill="none"/>
<path d="M384.45 680.4H681.6" stroke="#4d4d4d" stroke-width="0.95" fill="none"/>
<path d="M382.45 680.4h2" stroke="#4d4d4d" stroke-width="0.8"/>
<text x="381.45" y="683.4" font-size="7" font-weight="normal" text-anchor="end" fill="#1c1c1c" textLength="10" lengthAdjust="spacingAndGlyphs" stroke="#1c1c1c" stroke-width="0.25">0.0</text>
<path d="M384.45 680.4v2" stroke="#4d4d4d" stroke-width="0.8"/>
<text x="384.45" y="690.3" font-size="7" font-weight="normal" text-anchor="middle" fill="#1c1c1c" textLength="10" lengthAdjust="spacingAndGlyphs" stroke="#1c1c1c" stroke-width="0.25">0.0</text>
<path d="M382.45 650.96h2" stroke="#4d4d4d" stroke-width="0.8"/>
<text x="381.45" y="653.96" font-size="7" font-weight="normal" text-anchor="end" fill="#1c1c1c" textLength="10" lengthAdjust="spacingAndGlyphs" stroke="#1c1c1c" stroke-width="0.25">0.2</text>
<path d="M444.23 680.4v2" stroke="#4d4d4d" stroke-width="0.8"/>
<text x="444.23" y="690.3" font-size="7" font-weight="normal" text-anchor="middle" fill="#1c1c1c" textLength="10" lengthAdjust="spacingAndGlyphs" stroke="#1c1c1c" stroke-width="0.25">0.2</text>
<path d="M382.45 621.52h2" stroke="#4d4d4d" stroke-width="0.8"/>
<text x="381.45" y="624.52" font-size="7" font-weight="normal" text-anchor="end" fill="#1c1c1c" textLength="10" lengthAdjust="spacingAndGlyphs" stroke="#1c1c1c" stroke-width="0.25">0.4</text>
<path d="M503.56 680.4v2" stroke="#4d4d4d" stroke-width="0.8"/>
<text x="503.56" y="690.3" font-size="7" font-weight="normal" text-anchor="middle" fill="#1c1c1c" textLength="10" lengthAdjust="spacingAndGlyphs" stroke="#1c1c1c" stroke-width="0.25">0.4</text>
<path d="M382.45 592.08h2" stroke="#4d4d4d" stroke-width="0.8"/>
<text x="381.45" y="595.08" font-size="7" font-weight="normal" text-anchor="end" fill="#1c1c1c" textLength="10" lengthAdjust="spacingAndGlyphs" stroke="#1c1c1c" stroke-width="0.25">0.6</text>
<path d="M562.54 680.4v2" stroke="#4d4d4d" stroke-width="0.8"/>
<text x="562.54" y="690.3" font-size="7" font-weight="normal" text-anchor="middle" fill="#1c1c1c" textLength="10" lengthAdjust="spacingAndGlyphs" stroke="#1c1c1c" stroke-width="0.25">0.6</text>
<path d="M382.45 562.64h2" stroke="#4d4d4d" stroke-width="0.8"/>
<text x="381.45" y="565.64" font-size="7" font-weight="normal" text-anchor="end" fill="#1c1c1c" textLength="10" lengthAdjust="spacingAndGlyphs" stroke="#1c1c1c" stroke-width="0.25">0.8</text>
<path d="M621.77 680.4v2" stroke="#4d4d4d" stroke-width="0.8"/>
<text x="621.77" y="690.3" font-size="7" font-weight="normal" text-anchor="middle" fill="#1c1c1c" textLength="10" lengthAdjust="spacingAndGlyphs" stroke="#1c1c1c" stroke-width="0.25">0.8</text>
<path d="M382.45 533.2h2" stroke="#4d4d4d" stroke-width="0.8"/>
<text x="381.45" y="536.2" font-size="7" font-weight="normal" text-anchor="end" fill="#1c1c1c" textLength="10" lengthAdjust="spacingAndGlyphs" stroke="#1c1c1c" stroke-width="0.25">1.0</text>
<path d="M681.1 680.4v2" stroke="#4d4d4d" stroke-width="0.8"/>
<text x="679.9" y="690.3" font-size="7" font-weight="normal" text-anchor="middle" fill="#1c1c1c" textLength="10" lengthAdjust="spacingAndGlyphs" stroke="#1c1c1c" stroke-width="0.25">1.0</text>
<path d="M419.01 680.4H419.01V675.8H440.22V671.2H444.22V666.6H468.31V662H490V657.4H493.2V652.8H498.07V648.2H500.44V643.6H502.81V639H506.73V634.4H513.73V629.8H513.73V625.2H518.54V620.6H518.54V616H523.79V611.4H523.79V606.8H527.73V602.2H528.62V597.6H530.79V593H532.77V588.4H539.66V583.8H540.64V579.2H545.83V574.6H545.83V570H548.68V565.4H549.8V560.8H550.87V556.2H568.73V551.6H569.86V547H571.16V542.4H579.82V537.8H585.58V533.2" stroke="#5DABEE" stroke-width="1.15" fill="none" stroke-linejoin="miter"/>
<path d="M416.43 680.4H416.43V676.19H430.58V671.99H441.41V667.78H443.48V663.58H464.25V659.37H471.52V655.17H483.83V650.96H487.6V646.75H490.8V642.55H493.2V638.34H493.62V634.14H494.45V629.93H494.8V625.73H500.59V621.52H500.59V617.31H503.11V613.11H505.78V608.9H507.56V604.7H507.56V600.49H510.53V596.29H513.73V592.08H514.98V587.87H514.98V583.67H516.16V579.46H518.54V575.26H518.54V571.05H524.88V566.85H526.16V562.64H526.16V558.43H532.92V554.23H532.92V550.02H536.93V545.82H539.3V541.61H573.09V537.41H582.61V533.2" stroke="#8869CE" stroke-width="1.15" fill="none" stroke-linejoin="miter"/>
<path d="M423.61 680.4H423.61V676.31H434.29V672.22H437.85V668.13H458.61V664.04H458.61V659.96H462.71V655.87H465.14V651.78H467.51V647.69H472.35V643.6H476.41V639.51H476.41V635.42H483.53V631.33H486.79V627.24H486.79V623.16H494V619.07H497.06V614.98H497.47V610.89H498.07V606.8H498.36V602.71H502.34V598.62H503.64V594.53H507.14V590.44H507.14V586.36H507.14V582.27H509.04V578.18H518.12V574.09H519.43V570H520.23V565.91H532.92V561.82H535.33V557.73H535.33V553.64H538.56V549.56H541.67V545.47H548.2V541.38H549.39V537.29H560.96V533.2" stroke="#3CB371" stroke-width="1.15" fill="none" stroke-linejoin="miter"/>
<text x="463.6" y="704.5" font-size="14.2" font-weight="bold" text-anchor="start" fill="#111" textLength="128.8" lengthAdjust="spacingAndGlyphs" stroke="#111" stroke-width="0.25">Gini (Winning Rate)</text>
<text x="494.6" y="715.6" font-size="8.5" font-weight="bold" text-anchor="start" fill="#111" textLength="73.6" lengthAdjust="spacingAndGlyphs" stroke="#111" stroke-width="0.25">Community Level</text>
<text x="365.6" y="634.6" font-size="14" font-weight="bold" text-anchor="start" fill="#111" textLength="67.8" lengthAdjust="spacingAndGlyphs" transform="rotate(-90 365.6 634.6)" stroke="#111" stroke-width="0.25">Percentile</text>
</g>
</g>
</svg>
</body></html>
